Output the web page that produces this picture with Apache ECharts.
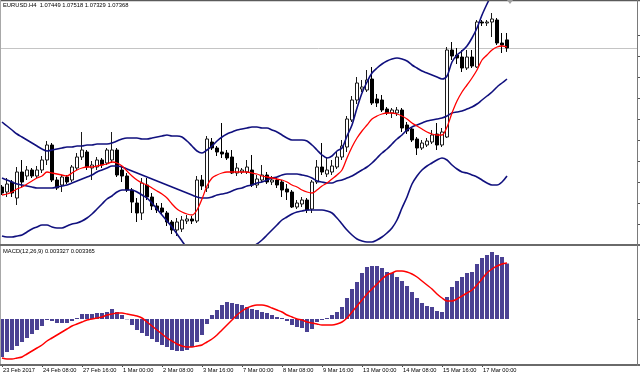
<!DOCTYPE html>
<html><head><meta charset="utf-8">
<script src="https://cdn.jsdelivr.net/npm/echarts@6/dist/echarts.min.js"></script>
<style>html,body{margin:0;padding:0;background:#fff}#c{width:640px;height:375px}</style>
</head><body><div id="c"></div><script>
const symbolName = 'EURUSD.H4';
const tickLabels = ['23 Feb 2017','24 Feb 08:00','27 Feb 16:00','1 Mar 00:00','2 Mar 08:00','3 Mar 16:00','7 Mar 00:00','8 Mar 08:00','9 Mar 16:00','13 Mar 00:00','14 Mar 08:00','15 Mar 16:00','17 Mar 00:00'];
const barsPerLabel = 8;
const priceTickValues = [1.07498,1.07288,1.07078,1.06868,1.06658,1.06448,1.06238,1.06028,1.05818,1.05608];

const open = [1.05978,1.05928,1.06028,1.05868,1.06128,1.06088,1.06148,1.06088,1.06148,1.06248,
 1.06398,1.06048,1.05998,1.06078,1.06048,1.06168,1.06278,1.06328,1.06168,1.06178,
 1.06248,1.06218,1.06248,1.06348,1.06148,1.06088,1.05948,1.05818,1.05718,1.05998,
 1.05878,1.05788,1.05768,1.05718,1.05628,1.05548,1.05558,1.05638,1.05658,1.05638,
 1.06048,1.05968,1.06428,1.06368,1.06328,1.06318,1.06278,1.06118,1.06128,1.06128,
 1.06148,1.05998,1.06048,1.06098,1.06028,1.06048,1.06028,1.05958,1.05928,1.05778,
 1.05808,1.05848,1.05758,1.06028,1.06178,1.06108,1.06128,1.06178,1.06278,1.06378,
 1.06648,1.06848,1.06958,1.06948,1.07058,1.06858,1.06848,1.06758,1.06718,1.06718,
 1.06748,1.06598,1.06558,1.06458,1.06368,1.06398,1.06428,1.06508,1.06398,1.06478,
 1.07348,1.07298,1.07278,1.07168,1.07278,1.07178,1.07628,1.07618,1.07628,1.07648,
 1.07418,1.07449];
const close = [1.05918,1.06008,1.05918,1.06128,1.06028,1.06148,1.06088,1.06148,1.06248,1.06398,
 1.06048,1.05968,1.06078,1.06028,1.06178,1.06278,1.06348,1.06178,1.06198,1.06248,
 1.06198,1.06348,1.06348,1.06098,1.06088,1.05948,1.05828,1.05718,1.06018,1.05878,
 1.05788,1.05748,1.05728,1.05628,1.05548,1.05628,1.05648,1.05658,1.05638,1.06048,
 1.05988,1.06458,1.06368,1.06328,1.06308,1.06268,1.06118,1.06168,1.06148,1.06178,
 1.05998,1.06058,1.06098,1.06028,1.06048,1.05998,1.05948,1.05928,1.05778,1.05818,
 1.05848,1.05748,1.06028,1.06178,1.06128,1.06148,1.06188,1.06278,1.06388,1.06658,
 1.06848,1.07018,1.06978,1.07048,1.06818,1.06818,1.06748,1.06718,1.06748,1.06748,
 1.06568,1.06538,1.06448,1.06368,1.06418,1.06438,1.06498,1.06398,1.06528,1.07348,
 1.07288,1.07268,1.07168,1.07278,1.07188,1.07628,1.07618,1.07628,1.07658,1.07418,
 1.07398,1.07368];
const high = [1.05998,1.06068,1.06048,1.06178,1.06248,1.06188,1.06168,1.06188,1.06288,1.06438,
 1.06418,1.06078,1.06098,1.06098,1.06198,1.06318,1.06528,1.06348,1.06238,1.06278,
 1.06268,1.06368,1.06528,1.06368,1.06198,1.06118,1.05968,1.05868,1.06068,1.06068,
 1.05918,1.05818,1.05818,1.05738,1.05648,1.05668,1.05688,1.05698,1.05688,1.06088,
 1.06098,1.06488,1.06468,1.06388,1.06618,1.06348,1.06348,1.06218,1.06168,1.06248,
 1.06298,1.06098,1.06198,1.06128,1.06088,1.06078,1.06048,1.06008,1.05948,1.05848,
 1.05878,1.05868,1.06048,1.06248,1.06418,1.06278,1.06248,1.06328,1.06448,1.06688,
 1.06888,1.07078,1.07048,1.07148,1.07178,1.06908,1.06898,1.06778,1.06768,1.06778,
 1.06768,1.06628,1.06578,1.06478,1.06448,1.06468,1.06548,1.06618,1.06568,1.07378,
 1.07428,1.07368,1.07348,1.07348,1.07348,1.07648,1.07648,1.07648,1.07718,1.07668,
 1.07518,1.07518];
const low = [1.05898,1.05878,1.05878,1.05798,1.05978,1.06048,1.06068,1.06068,1.06118,1.06198,
 1.06028,1.05948,1.05928,1.06008,1.06028,1.06148,1.06248,1.06148,1.06048,1.06148,
 1.06168,1.06198,1.06218,1.06078,1.06028,1.05928,1.05718,1.05628,1.05648,1.05848,
 1.05748,1.05718,1.05698,1.05588,1.05508,1.05488,1.05528,1.05608,1.05608,1.05618,
 1.05948,1.05928,1.06348,1.06288,1.06268,1.06248,1.06108,1.06088,1.06108,1.06108,
 1.05978,1.05968,1.06028,1.06008,1.05998,1.05968,1.05878,1.05848,1.05768,1.05758,
 1.05778,1.05718,1.05718,1.06008,1.06098,1.06078,1.06098,1.06158,1.06248,1.06328,
 1.06628,1.06808,1.06928,1.06928,1.06798,1.06778,1.06728,1.06698,1.06668,1.06688,
 1.06528,1.06508,1.06428,1.06298,1.06348,1.06378,1.06408,1.06348,1.06378,1.06468,
 1.07248,1.07208,1.07128,1.07148,1.07168,1.07168,1.07588,1.07588,1.07478,1.07398,
 1.07318,1.07329];
const bandUpper = [1.06628,1.06588,1.06548,1.06508,1.06478,1.06448,1.06418,1.06388,1.06358,1.06338,
 1.06348,1.06358,1.06368,1.06378,1.06378,1.06388,1.06388,1.06398,1.06398,1.06408,
 1.06408,1.06408,1.06418,1.06438,1.06458,1.06468,1.06468,1.06468,1.06458,1.06458,
 1.06468,1.06478,1.06488,1.06498,1.06488,1.06488,1.06478,1.06438,1.06388,1.06338,
 1.06318,1.06348,1.06388,1.06438,1.06478,1.06508,1.06528,1.06548,1.06558,1.06568,
 1.06578,1.06578,1.06568,1.06568,1.06548,1.06528,1.06498,1.06468,1.06448,1.06448,
 1.06448,1.06438,1.06398,1.06348,1.06298,1.06268,1.06288,1.06338,1.06368,1.06488,
 1.06598,1.06768,1.06918,1.07028,1.07118,1.07168,1.07208,1.07238,1.07258,1.07268,
 1.07258,1.07238,1.07198,1.07168,1.07138,1.07118,1.07098,1.07078,1.07058,1.07088,
 1.07228,1.07298,1.07338,1.07388,1.07468,1.07568,1.07698,1.07808,1.07908,1.07988,
 1.08048,1.08098];
const bandMiddle = [1.06068,1.06048,1.06028,1.06008,1.05998,1.05988,1.05978,1.05968,1.05968,1.05968,
 1.05968,1.05978,1.05988,1.05998,1.06018,1.06038,1.06058,1.06078,1.06098,1.06128,
 1.06148,1.06168,1.06188,1.06188,1.06178,1.06158,1.06138,1.06118,1.06098,1.06078,
 1.06058,1.06038,1.06018,1.05998,1.05978,1.05958,1.05938,1.05918,1.05898,1.05878,
 1.05868,1.05868,1.05878,1.05898,1.05908,1.05918,1.05938,1.05958,1.05968,1.05988,
 1.05998,1.06018,1.06028,1.06048,1.06068,1.06078,1.06098,1.06108,1.06108,1.06108,
 1.06098,1.06088,1.06068,1.06038,1.06028,1.06018,1.06018,1.06038,1.06048,1.06068,
 1.06088,1.06118,1.06148,1.06178,1.06218,1.06268,1.06318,1.06358,1.06408,1.06458,
 1.06498,1.06548,1.06578,1.06598,1.06618,1.06638,1.06648,1.06658,1.06668,1.06688,
 1.06718,1.06728,1.06738,1.06758,1.06778,1.06808,1.06848,1.06888,1.06928,1.06978,
 1.07018,1.07058];
const bandLower = [1.05488,1.05478,1.05478,1.05488,1.05498,1.05528,1.05558,1.05578,1.05598,1.05598,
 1.05578,1.05568,1.05568,1.05588,1.05608,1.05618,1.05638,1.05668,1.05708,1.05758,
 1.05808,1.05858,1.05888,1.05928,1.05948,1.05948,1.05948,1.05928,1.05898,1.05868,
 1.05818,1.05758,1.05698,1.05638,1.05578,1.05508,1.05438,1.05368,1.05308,1.05268,
 1.05228,1.05208,1.05208,1.05218,1.05238,1.05258,1.05278,1.05298,1.05328,1.05348,
 1.05378,1.05408,1.05448,1.05498,1.05548,1.05598,1.05648,1.05678,1.05708,1.05728,
 1.05738,1.05748,1.05748,1.05748,1.05748,1.05738,1.05718,1.05668,1.05608,1.05548,
 1.05498,1.05458,1.05438,1.05428,1.05428,1.05448,1.05478,1.05518,1.05568,1.05648,
 1.05768,1.05878,1.06008,1.06088,1.06148,1.06188,1.06218,1.06248,1.06268,1.06248,
 1.06198,1.06158,1.06128,1.06118,1.06098,1.06078,1.06048,1.06018,1.05998,1.05998,
 1.06028,1.06088];
const movingAvg = [1.05898,1.05908,1.05928,1.05958,1.05978,1.06008,1.06038,1.06068,1.06088,1.06128,
 1.06118,1.06108,1.06098,1.06088,1.06118,1.06148,1.06168,1.06178,1.06178,1.06188,
 1.06198,1.06208,1.06228,1.06218,1.06188,1.06138,1.06088,1.06048,1.06018,1.05998,
 1.05968,1.05938,1.05908,1.05868,1.05808,1.05758,1.05728,1.05708,1.05698,1.05748,
 1.05858,1.05988,1.06068,1.06098,1.06118,1.06128,1.06128,1.06128,1.06128,1.06128,
 1.06118,1.06108,1.06088,1.06078,1.06068,1.06058,1.06048,1.06028,1.05998,1.05978,
 1.05948,1.05928,1.05918,1.05948,1.05988,1.06018,1.06058,1.06098,1.06148,1.06268,
 1.06378,1.06468,1.06538,1.06598,1.06658,1.06688,1.06708,1.06718,1.06718,1.06708,
 1.06688,1.06658,1.06618,1.06588,1.06558,1.06528,1.06508,1.06498,1.06498,1.06578,
 1.06718,1.06838,1.06928,1.06998,1.07068,1.07148,1.07248,1.07298,1.07348,1.07378,
 1.07388,1.07378];
const macdHist = [-0.00228,-0.00198,-0.00186,-0.00162,-0.00138,-0.00114,-0.0009,-0.00066,-0.00042,-0.00006,
 -0.00012,-0.00024,-0.00024,-0.00024,-0.00012,0.00006,0.0003,0.0003,0.0003,0.00036,
 0.00036,0.00042,0.0006,0.00042,0.00024,-0.00002,-0.00036,-0.00066,-0.00084,-0.00102,
 -0.0012,-0.00138,-0.00156,-0.00168,-0.00186,-0.00192,-0.00192,-0.00186,-0.00168,-0.00138,
 -0.00096,-0.0003,0.00024,0.00054,0.00084,0.00102,0.00096,0.0009,0.00084,0.00072,
 0.0006,0.00054,0.00042,0.00036,0.00024,0.00012,0.00006,-0.00012,-0.00036,-0.00048,
 -0.00054,-0.00078,-0.0006,-0.00018,-0.00006,0.00006,0.00024,0.00042,0.00072,0.00126,
 0.0018,0.00222,0.00276,0.00312,0.00318,0.00318,0.00306,0.00282,0.00276,0.00252,
 0.00228,0.00198,0.00162,0.00126,0.00096,0.00078,0.00072,0.00048,0.00042,0.00132,
 0.00192,0.00228,0.00252,0.00276,0.00282,0.0033,0.00366,0.00384,0.00402,0.00384,
 0.00372,0.003327];
const macdSignal = [-0.00234,-0.0024,-0.0024,-0.00234,-0.00228,-0.0021,-0.00192,-0.00174,-0.00156,-0.00132,
 -0.00114,-0.00096,-0.00078,-0.0006,-0.00042,-0.0003,-0.00018,-0.00006,0,0.00006,
 0.00012,0.00024,0.0003,0.00036,0.00036,0.0003,0.00024,0.00018,0.00006,-0.00018,
 -0.00042,-0.00066,-0.0009,-0.00114,-0.00132,-0.0015,-0.00162,-0.00168,-0.00168,-0.00162,
 -0.00156,-0.00138,-0.0012,-0.00096,-0.00066,-0.00036,-0.00006,0.00024,0.00048,0.00066,
 0.00078,0.00084,0.00084,0.00078,0.00066,0.00054,0.00042,0.00024,0.00012,0,
 -0.00006,-0.00018,-0.00024,-0.0003,-0.00036,-0.00036,-0.00036,-0.0003,-0.00018,0.00006,
 0.00042,0.00078,0.00114,0.0015,0.0018,0.0021,0.0024,0.00264,0.00276,0.00288,
 0.00288,0.00282,0.0027,0.00252,0.00228,0.00204,0.0018,0.0015,0.00126,0.00108,
 0.00108,0.0012,0.00138,0.00156,0.00174,0.00204,0.0024,0.00276,0.003,0.00318,
 0.0033,0.003365];

const n = close.length;
const last = n - 1;
const font = 'Liberation Sans, Arial, sans-serif';
const xMin = -0.4, xMax = 127;
const labelIdx = tickLabels.map((_, k) => k * barsPerLabel);
const pts = arr => arr.map((v, i) => [i, v]);

const chart = echarts.init(document.getElementById('c'), null, {renderer: 'canvas'});
const line = (name, arr, color, w, extra) => Object.assign({
  name, type: 'line', xAxisIndex: 0, yAxisIndex: 0, data: pts(arr),
  showSymbol: false, smooth: 0.3, z: 3, silent: true,
  lineStyle: {color, width: w}
}, extra || {});

chart.setOption({
  animation: false,
  backgroundColor: '#ffffff',
  title: [
    {text: `${symbolName}  ${open[last].toFixed(5)} ${high[last].toFixed(5)} ${low[last].toFixed(5)} ${close[last].toFixed(5)}`,
     left: 3, top: 2, padding: 0, textStyle: {fontSize: 5.8, fontWeight: 'normal', color: '#000', fontFamily: font}},
    {text: `MACD(12,26,9) ${macdHist[last].toFixed(6)} ${macdSignal[last].toFixed(6)}`,
     left: 3, top: 248, padding: 0, textStyle: {fontSize: 5.8, fontWeight: 'normal', color: '#000', fontFamily: font}}
  ],
  grid: [
    {left: 0, top: 1, width: 637, height: 243},
    {left: 0, top: 246, width: 637, height: 118}
  ],
  xAxis: [
    {type: 'value', gridIndex: 0, min: xMin, max: xMax, show: false, axisLine: {onZero: false}},
    {type: 'value', gridIndex: 1, min: xMin, max: xMax, position: 'bottom',
     axisLine: {show: false, onZero: false}, splitLine: {show: false},
     axisTick: {show: true, customValues: labelIdx, length: 3, inside: false, lineStyle: {color: '#444'}},
     axisLabel: {show: true, customValues: labelIdx, margin: 3, align: 'left', padding: [0, 0, 0, 1],
       fontSize: 5.7, color: '#000', fontFamily: font,
       formatter: v => tickLabels[Math.round(v / barsPerLabel)] || ''}}
  ],
  yAxis: [
    {type: 'value', gridIndex: 0, position: 'right', min: 1.05408, max: 1.07838, scale: true,
     axisLine: {show: false, onZero: false}, splitLine: {show: false}, axisLabel: {show: false},
     axisTick: {show: true, customValues: priceTickValues, length: 3, inside: false, lineStyle: {color: '#555'}}},
    {type: 'value', gridIndex: 1, position: 'right', min: -0.0027, max: 0.00438,
     axisLine: {show: false, onZero: false}, splitLine: {show: false}, axisLabel: {show: false},
     axisTick: {show: true, customValues: [0], length: 3, inside: false, lineStyle: {color: '#555'}}}
  ],
  series: [
    {name: 'price', type: 'candlestick', xAxisIndex: 0, yAxisIndex: 0, barWidth: 3, z: 2, silent: true,
     encode: {x: 0, y: [1, 2, 3, 4]},
     data: close.map((c, i) => [i, open[i], c, low[i], high[i]]),
     itemStyle: {color: '#ffffff', color0: '#000000', borderColor: '#1a1a1a', borderColor0: '#000000', borderWidth: 1}},
    line('Upper band', bandUpper, '#10107e', 1.6),
    line('Middle band', bandMiddle, '#10107e', 1.6),
    line('Lower band', bandLower, '#10107e', 1.6),
    line('MA', movingAvg, '#ff0000', 1.3, {
      markLine: {silent: true, symbol: 'none', precision: 6, label: {show: false}, z: 1,
        lineStyle: {color: '#c4c4c4', type: 'solid', width: 1},
        data: [{yAxis: close[last]}]}}),
    {name: 'MACD', type: 'bar', xAxisIndex: 1, yAxisIndex: 1, barWidth: 4, silent: true,
     data: pts(macdHist), itemStyle: {color: '#4a4193'}},
    {name: 'Signal', type: 'line', xAxisIndex: 1, yAxisIndex: 1, data: pts(macdSignal), showSymbol: false,
     smooth: 0.3, z: 3, silent: true, lineStyle: {color: '#ff0000', width: 1.5}}
  ],
  graphic: [
    {type: 'line', silent: true, z: 10, shape: {x1: 0, y1: 0.5, x2: 640, y2: 0.5}, style: {stroke: '#5a5a5a', lineWidth: 1.5}},
    {type: 'line', silent: true, z: 10, shape: {x1: 0.5, y1: 0, x2: 0.5, y2: 366}, style: {stroke: '#a8a8a8', lineWidth: 1}},
    {type: 'rect', silent: true, z: 10, shape: {x: 0, y: 244, width: 640, height: 2}, style: {fill: '#6a6a6a'}},
    {type: 'rect', silent: true, z: 10, shape: {x: 0, y: 364, width: 640, height: 2}, style: {fill: '#6a6a6a'}},
    {type: 'line', silent: true, z: 10, shape: {x1: 637.5, y1: 0, x2: 637.5, y2: 366}, style: {stroke: '#7a7a7a', lineWidth: 1}},
    {type: 'polygon', silent: true, z: 10, shape: {points: [[507, 0], [513, 0], [510, 4]]}, style: {fill: '#a0a0a0'}}
  ]
});
</script></body></html>
